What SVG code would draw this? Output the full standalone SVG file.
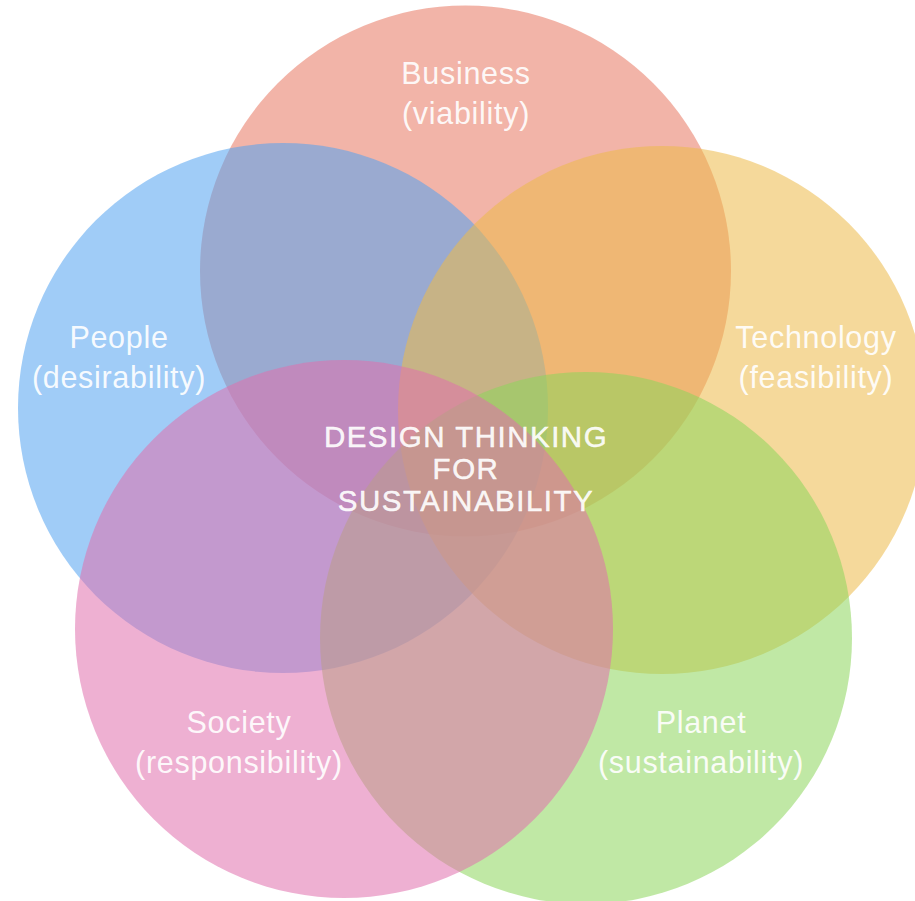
<svg xmlns="http://www.w3.org/2000/svg" width="915" height="901" viewBox="0 0 915 901">
<style>
.c{fill-opacity:0.55}
.t{font-family:"Liberation Sans",Arial,sans-serif;fill:#ffffff;fill-opacity:0.92;text-anchor:middle}
.l{font-size:30.5px;letter-spacing:0.7px}
.m{font-size:29.5px;letter-spacing:1.5px;stroke:#ffffff;stroke-width:0.5px;stroke-opacity:0.9}
</style>
<rect width="915" height="901" fill="#ffffff"/>
<g id="business"><circle class="c" cx="465.5" cy="271" r="265.5" fill="#e77761"/></g>
<g id="people"><circle class="c" cx="283" cy="408" r="265" fill="#52a2f0"/></g>
<g id="technology"><circle class="c" cx="662" cy="410" r="264" fill="#edba49"/></g>
<g id="planet"><circle class="c" cx="586" cy="638" r="266" fill="#8cd55b"/></g>
<g id="society"><circle class="c" cx="344" cy="629" r="269" fill="#e06fad"/></g>
<g id="connectors"></g>
<g id="labels">
<text class="t l" x="466" y="84">Business</text>
<text class="t l" x="466" y="124">(viability)</text>
<text class="t l" x="119" y="348">People</text>
<text class="t l" x="119" y="388">(desirability)</text>
<text class="t l" x="816" y="348">Technology</text>
<text class="t l" x="816" y="388">(feasibility)</text>
<text class="t l" x="239" y="733">Society</text>
<text class="t l" x="239" y="773">(responsibility)</text>
<text class="t l" x="701" y="733">Planet</text>
<text class="t l" x="701" y="773">(sustainability)</text>
</g>
<g id="center">
<text class="t m" x="466" y="447">DESIGN THINKING</text>
<text class="t m" x="466" y="479">FOR</text>
<text class="t m" x="466" y="511">SUSTAINABILITY</text>
</g>
</svg>
